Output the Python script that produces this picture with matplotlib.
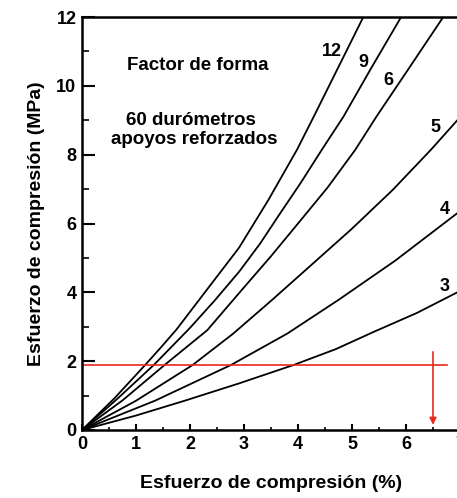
import matplotlib
matplotlib.use("Agg")
import matplotlib.pyplot as plt
from matplotlib.ticker import MultipleLocator

plt.rcParams["font.family"] = ["Liberation Sans", "DejaVu Sans"]
plt.rcParams["font.weight"] = "bold"

# --- data (strain %, stress MPa) --------------------------------------
shape_factors = ["12", "9", "6", "5", "4", "3"]
strain_12 = [0, 0.6, 1.17, 1.45, 1.75, 2.3, 2.91, 3.45, 3.98, 4.29, 4.75, 5.21]
stress_12 = [0, 0.92, 1.89, 2.38, 2.92, 4.05, 5.3, 6.68, 8.14, 9.1, 10.55, 12.0]
strain_9 = [0, 0.65, 1.33, 1.99, 2.45, 2.91, 3.3, 3.65, 4.05, 4.44, 4.84, 5.35, 5.91]
stress_9 = [0, 0.9, 1.89, 2.95, 3.75, 4.6, 5.42, 6.25, 7.18, 8.14, 9.1, 10.5, 12.0]
strain_6 = [0, 0.75, 1.53, 2.32, 2.91, 3.5, 4.0, 4.55, 5.06, 5.45, 6.05, 6.69]
stress_6 = [0, 0.86, 1.89, 2.9, 3.98, 5.05, 6.0, 7.05, 8.14, 9.1, 10.5, 12.0]
strain_5 = [0, 1.0, 2.05, 2.8, 3.52, 4.25, 5.0, 5.75, 6.46, 6.95]
stress_5 = [0, 0.85, 1.89, 2.8, 3.78, 4.8, 5.85, 6.97, 8.14, 9.0]
strain_4 = [0, 1.35, 2.76, 3.8, 4.75, 5.8, 6.95]
stress_4 = [0, 0.85, 1.89, 2.8, 3.78, 4.92, 6.3]
strain_3 = [0, 1.0, 1.9, 2.9, 3.92, 4.7, 5.4, 6.2, 6.95]
stress_3 = [0, 0.42, 0.85, 1.35, 1.89, 2.35, 2.85, 3.4, 4.0]

curves = [(strain_12, stress_12), (strain_9, stress_9), (strain_6, stress_6),
          (strain_5, stress_5), (strain_4, stress_4), (strain_3, stress_3)]
label_x = [4.62, 5.21, 5.67, 6.54, 6.72, 6.72]
label_y = [11.0, 10.67, 10.15, 8.78, 6.4, 4.16]

design_stress = 1.89
design_strain = 6.5
line_end = 6.76

fig = plt.figure(figsize=(4.57, 4.98), dpi=100)
ax = fig.add_axes([82 / 457, 1 - 430 / 498, (460 - 82) / 457, (430 - 17) / 498])

for (xs, ys) in curves:
    ax.plot(xs, ys, color="black", lw=1.3)
for name, lx, ly in zip(shape_factors, label_x, label_y):
    ax.text(lx, ly, name, ha="center", va="center", fontsize=13, fontweight="bold")

red = "#e8281c"
ax.plot([0, line_end], [design_stress, design_stress], color=red, lw=1.2)
ax.annotate("", xy=(design_strain, 0.15), xytext=(design_strain, 2.27),
            arrowprops=dict(arrowstyle="-|>", color=red, lw=1.2,
                            mutation_scale=10, shrinkA=0, shrinkB=0))

ax.text(2.15, 10.58, "Factor de forma", ha="center", va="center", fontsize=13.5)
ax.text(2.02, 9.0, "60 durómetros", ha="center", va="center", fontsize=13.5)
ax.text(2.08, 8.43, "apoyos reforzados", ha="center", va="center", fontsize=13.5)

ax.set_xlim(0, 7)
ax.set_ylim(0, 12)
ax.xaxis.set_major_locator(MultipleLocator(1))
ax.xaxis.set_minor_locator(MultipleLocator(0.5))
ax.yaxis.set_major_locator(MultipleLocator(2))
ax.yaxis.set_minor_locator(MultipleLocator(1))
ax.tick_params(axis="x", which="major", direction="in", length=4, width=1.5,
               labelsize=13, pad=4)
ax.tick_params(axis="x", which="minor", direction="in", length=2.5, width=1.2)
ax.tick_params(axis="y", which="major", direction="in", length=9, width=1.5,
               labelsize=13, pad=4)
ax.tick_params(axis="y", which="minor", direction="in", length=5, width=1.2)
for lab in ax.get_xticklabels() + ax.get_yticklabels():
    lab.set_fontweight("bold")
for side in ["left", "bottom", "top"]:
    ax.spines[side].set_linewidth(1.8)
ax.spines["right"].set_visible(False)

ax.set_xlabel("Esfuerzo de compresión (%)", fontsize=14, fontweight="bold", labelpad=16)
ax.set_ylabel("Esfuerzo de compresión (MPa)", fontsize=14, fontweight="bold", labelpad=8)

fig.savefig("out.png", dpi=100)
